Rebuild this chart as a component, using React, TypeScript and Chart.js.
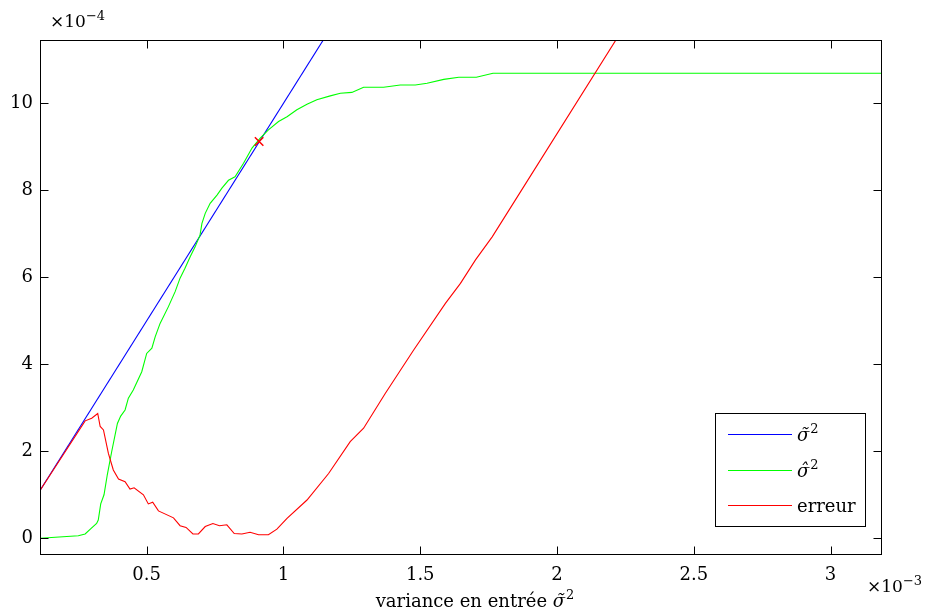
import React, { useEffect, useRef } from 'react';
import { Chart, registerables } from 'chart.js';

Chart.register(...registerables);

// x values are in units of 1e-3, y values in units of 1e-4
const X_MIN = 0.11;
const X_MAX = 3.188;
const Y_MIN = -0.384;
const Y_MAX = 11.455;

const xTicks = [0.5, 1, 1.5, 2, 2.5, 3];
const yTicks = [0, 2, 4, 6, 8, 10];

const seriesLabels = ['σ̃', 'σ̂', 'erreur'];

const blueX = [0.11, 3.19];
const blueY = [1.1, 31.9];

const greenX = [
  0.11, 0.25, 0.275, 0.297, 0.317, 0.323, 0.332, 0.344, 0.356, 0.372, 0.393, 0.405, 0.421, 0.433,
  0.451, 0.482, 0.5, 0.519, 0.531, 0.549, 0.579, 0.604, 0.622, 0.64, 0.659, 0.677, 0.695, 0.702,
  0.714, 0.732, 0.757, 0.775, 0.799, 0.823, 0.854, 0.885, 0.915, 0.945, 0.982, 1.013, 1.049, 1.086,
  1.122, 1.171, 1.208, 1.25, 1.293, 1.366, 1.427, 1.482, 1.525, 1.586, 1.641, 1.705, 1.766, 3.19,
];
const greenY = [
  0.0, 0.06, 0.1, 0.23, 0.34, 0.42, 0.79, 1.0, 1.46, 1.99, 2.64, 2.81, 2.95, 3.22,
  3.41, 3.83, 4.25, 4.37, 4.63, 4.94, 5.32, 5.67, 5.98, 6.21, 6.47, 6.7, 6.97, 7.24,
  7.47, 7.7, 7.89, 8.05, 8.23, 8.31, 8.62, 8.97, 9.2, 9.39, 9.58, 9.69, 9.85, 9.98,
  10.08, 10.17, 10.23, 10.25, 10.37, 10.37, 10.42, 10.42, 10.46, 10.55, 10.6, 10.6, 10.69, 10.69,
];

const redX = [
  0.11, 0.275, 0.299, 0.321, 0.33, 0.342, 0.36, 0.378, 0.397, 0.421, 0.439, 0.454, 0.488, 0.506,
  0.522, 0.543, 0.598, 0.622, 0.644, 0.669, 0.689, 0.714, 0.742, 0.766, 0.793, 0.82, 0.848, 0.878,
  0.909, 0.945, 0.976, 1.013, 1.086, 1.165, 1.244, 1.293, 1.372, 1.476, 1.592, 1.647, 1.702, 1.763,
  1.848, 3.19,
];
const redY = [
  1.1, 2.7, 2.76, 2.87, 2.57, 2.49, 1.95, 1.57, 1.36, 1.3, 1.13, 1.16, 1.0, 0.79,
  0.83, 0.63, 0.47, 0.29, 0.25, 0.1, 0.1, 0.27, 0.34, 0.29, 0.31, 0.11, 0.1, 0.14,
  0.08, 0.08, 0.21, 0.46, 0.88, 1.49, 2.22, 2.53, 3.33, 4.33, 5.4, 5.86, 6.4, 6.93,
  7.78, 21.21,
];

const markX = [0.911];
const markY = [9.12];

const FONT = '"DejaVu Serif", serif';

const toPoints = (xs: number[], ys: number[]) => xs.map((x, i) => ({ x, y: ys[i] }));

// draws an italic accented sigma followed by a superscript 2; returns width
function drawSigma(ctx: CanvasRenderingContext2D, sym: string, x: number, y: number, size: number, measureOnly = false) {
  ctx.font = `italic ${size}px ${FONT}`;
  const w1 = ctx.measureText(sym).width;
  if (!measureOnly) ctx.fillText(sym, x, y);
  ctx.font = `${Math.round(size * 0.72)}px ${FONT}`;
  const w2 = ctx.measureText('2').width;
  if (!measureOnly) ctx.fillText('2', x + w1 + 1, y - size * 0.42);
  return w1 + 1 + w2;
}

const framePlugin = {
  id: 'frame',
  afterDraw(chart: any) {
    const { ctx, chartArea, scales } = chart;
    const { left, top, right, bottom } = chartArea;
    const L = Math.round(left) + 0.5;
    const T = Math.round(top) + 0.5;
    const R = Math.round(right) - 0.5;
    const B = Math.round(bottom) - 0.5;
    ctx.save();
    ctx.strokeStyle = '#000';
    ctx.lineWidth = 1;
    ctx.strokeRect(L, T, R - L, B - T);
    const TL = 8;
    ctx.beginPath();
    xTicks.forEach((v) => {
      const px = Math.round(scales.x.getPixelForValue(v)) + 0.5;
      ctx.moveTo(px, B);
      ctx.lineTo(px, B - TL);
      ctx.moveTo(px, T);
      ctx.lineTo(px, T + TL);
    });
    yTicks.forEach((v) => {
      const py = Math.round(scales.y.getPixelForValue(v)) + 0.5;
      ctx.moveTo(L, py);
      ctx.lineTo(L + TL, py);
      ctx.moveTo(R, py);
      ctx.lineTo(R - TL, py);
    });
    ctx.stroke();

    // exponent labels
    ctx.fillStyle = '#000';
    ctx.textBaseline = 'alphabetic';
    ctx.textAlign = 'left';
    ctx.font = `17px ${FONT}`;
    ctx.fillText('×10', 50, 27);
    let w = ctx.measureText('×10').width;
    ctx.font = `13px ${FONT}`;
    ctx.fillText('−4', 50 + w, 20);
    ctx.font = `17px ${FONT}`;
    ctx.fillText('×10', 867, 592);
    w = ctx.measureText('×10').width;
    ctx.font = `13px ${FONT}`;
    ctx.fillText('−3', 867 + w, 585);

    // x axis title
    const t1 = 'variance en entrée ';
    ctx.font = `18px ${FONT}`;
    const w1 = ctx.measureText(t1).width;
    const w2 = drawSigma(ctx, 'σ̃', 0, 0, 18, true);
    let tx = 475 - (w1 + w2) / 2;
    const ty = 607;
    ctx.font = `18px ${FONT}`;
    ctx.fillText(t1, tx, ty);
    drawSigma(ctx, 'σ̃', tx + w1, ty, 18);

    // legend
    ctx.strokeStyle = '#000';
    ctx.strokeRect(715.5, 413.5, 150, 113);
    const rows = [434.5, 470.5, 505.5];
    const ds = chart.data.datasets;
    rows.forEach((ry, i) => {
      ctx.strokeStyle = ds[i].borderColor;
      ctx.lineWidth = 1;
      ctx.beginPath();
      ctx.moveTo(728, ry);
      ctx.lineTo(792, ry);
      ctx.stroke();
      ctx.fillStyle = '#000';
      ctx.textBaseline = 'alphabetic';
      const lab = ds[i].label;
      if (i < 2) {
        drawSigma(ctx, lab, 797, ry + 6, 18);
      } else {
        ctx.font = `18px ${FONT}`;
        ctx.fillText(lab, 797, ry + 6);
      }
    });
    ctx.restore();
  },
};

export default function App() {
  const ref = useRef<HTMLCanvasElement | null>(null);
  useEffect(() => {
    if (!ref.current) return;
    const chart = new Chart(ref.current, {
      type: 'line',
      data: {
        datasets: [
          {
            label: seriesLabels[0],
            data: toPoints(blueX, blueY),
            borderColor: '#0000ff',
            borderWidth: 1.1,
            pointRadius: 0,
            tension: 0,
            order: 3,
          },
          {
            label: seriesLabels[1],
            data: toPoints(greenX, greenY),
            borderColor: '#00ff00',
            borderWidth: 1.1,
            pointRadius: 0,
            tension: 0,
            order: 2,
          },
          {
            label: seriesLabels[2],
            data: toPoints(redX, redY),
            borderColor: '#ff0000',
            borderWidth: 1.1,
            pointRadius: 0,
            tension: 0,
            order: 1,
          },
          {
            label: 'marker',
            data: toPoints(markX, markY),
            borderColor: '#ff0000',
            backgroundColor: '#ff0000',
            showLine: false,
            pointStyle: 'crossRot',
            pointRadius: 6,
            pointBorderWidth: 1.5,
            order: 0,
          },
        ],
      },
      options: {
        responsive: false,
        animation: false,
        layout: { padding: { top: 40, right: 46, left: 0, bottom: 0 } },
        plugins: { legend: { display: false }, tooltip: { enabled: false } },
        scales: {
          x: {
            type: 'linear',
            min: X_MIN,
            max: X_MAX,
            afterBuildTicks: (s: any) => {
              s.ticks = xTicks.map((v) => ({ value: v }));
            },
            afterFit: (s: any) => {
              s.height = 59;
            },
            grid: { display: false, drawTicks: false },
            border: { display: false },
            ticks: {
              color: '#000',
              font: { family: FONT, size: 18 },
              padding: 10,
              maxRotation: 0,
              callback: (v: any) => String(v),
            },
          },
          y: {
            type: 'linear',
            min: Y_MIN,
            max: Y_MAX,
            afterBuildTicks: (s: any) => {
              s.ticks = yTicks.map((v) => ({ value: v }));
            },
            afterFit: (s: any) => {
              s.width = 40;
            },
            grid: { display: false, drawTicks: false },
            border: { display: false },
            ticks: {
              color: '#000',
              font: { family: FONT, size: 18 },
              padding: 7,
              callback: (v: any) => String(v),
            },
          },
        },
      },
      plugins: [framePlugin],
    });
    return () => chart.destroy();
  }, []);
  return (
    <div style={{ position: 'fixed', left: 0, top: 0, width: 928, height: 614, background: '#fff' }}>
      <canvas ref={ref} width={928} height={614} style={{ display: 'block' }} />
    </div>
  );
}
